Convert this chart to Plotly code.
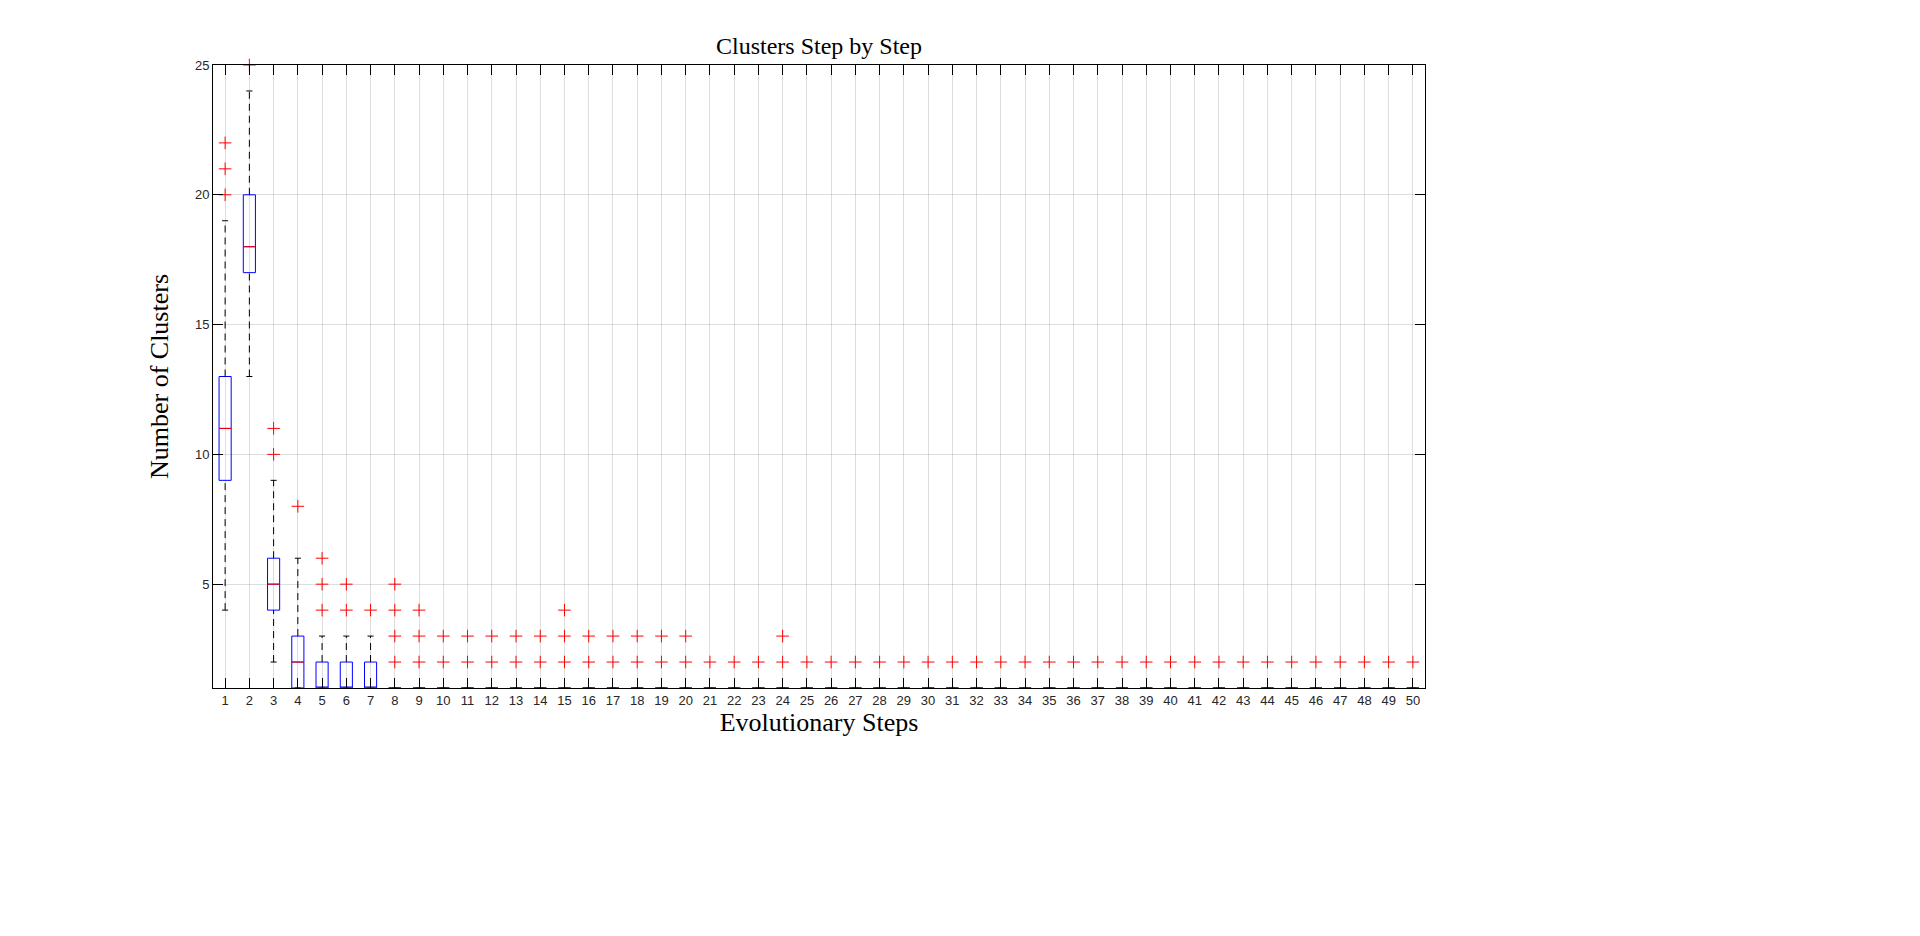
import plotly.graph_objects as go

steps = list(range(1, 51))
q1 =    [9, 17, 4, 1, 1, 1, 1] + [1]*43
med =   [11, 18, 5, 2, 1, 1, 1] + [1]*43
q3 =    [13, 20, 6, 3, 2, 2, 2] + [1]*43
wlo =   [4, 13, 2, 1, 1, 1, 1] + [1]*43
whi =   [19, 24, 9, 6, 3, 3, 3] + [1]*43
outliers = {
    1: [20, 21, 22], 2: [25], 3: [10, 11], 4: [8], 5: [4, 5, 6], 6: [4, 5], 7: [4],
    8: [2, 3, 4, 5], 9: [2, 3, 4], 10: [2, 3], 11: [2, 3], 12: [2, 3], 13: [2, 3],
    14: [2, 3], 15: [2, 3, 4], 16: [2, 3], 17: [2, 3], 18: [2, 3], 19: [2, 3], 20: [2, 3],
    21: [2], 22: [2], 23: [2], 24: [2, 3],
}
for s in range(25, 51):
    outliers[s] = [2]

fig = go.Figure()
fig.add_trace(go.Box(x=steps, q1=q1, median=med, q3=q3, lowerfence=q1, upperfence=q3,
                     width=0.5, line=dict(color="blue", width=1), fillcolor="rgba(0,0,0,0)",
                     whiskerwidth=0, showlegend=False, hoverinfo="skip"))
wx, wy, cx, cy, mx, my = [], [], [], [], [], []
for i, s in enumerate(steps):
    if whi[i] > q3[i]:
        wx += [s, s, None]; wy += [q3[i], whi[i], None]
    if wlo[i] < q1[i]:
        wx += [s, s, None]; wy += [wlo[i], q1[i], None]
    for v in (wlo[i], whi[i]):
        cx += [s - 0.125, s + 0.125, None]; cy += [v, v, None]
    mx += [s - 0.25, s + 0.25, None]; my += [med[i], med[i], None]
fig.add_trace(go.Scatter(x=wx, y=wy, mode="lines", line=dict(color="black", width=1, dash="7px,5px"),
                         showlegend=False, hoverinfo="skip"))
fig.add_trace(go.Scatter(x=cx, y=cy, mode="lines", line=dict(color="black", width=1),
                         showlegend=False, hoverinfo="skip"))
fig.add_trace(go.Scatter(x=mx, y=my, mode="lines", line=dict(color="red", width=1),
                         showlegend=False, hoverinfo="skip"))
ox, oy = [], []
for s, vals in outliers.items():
    for v in vals:
        ox.append(s); oy.append(v)
fig.add_trace(go.Scatter(x=ox, y=oy, mode="markers",
                         marker=dict(symbol="cross-thin", size=9, line=dict(color="red", width=1)),
                         showlegend=False, hoverinfo="skip", cliponaxis=False))

serif = "Liberation Serif"
fig.update_layout(
    width=1920, height=936, plot_bgcolor="white", paper_bgcolor="white",
    margin=dict(l=205, r=503, t=57, b=256),
    title=dict(text="Clusters Step by Step", x=0.5, xanchor="center", xref="paper",
               y=1 - 38/936, yanchor="middle", font=dict(family=serif, size=24, color="black")),
    xaxis=dict(range=[0.5, 50.5], tickvals=steps, ticktext=[str(s) for s in steps],
               showgrid=True, gridcolor="rgba(0,0,0,0.13)", zeroline=False,
               showline=True, linecolor="black", linewidth=1, mirror="ticks",
               ticks="inside", ticklen=10, tickcolor="black",
               tickfont=dict(family="Liberation Sans", size=13, color="#262626"),
               title=dict(text="Evolutionary Steps", font=dict(family=serif, size=26, color="black"), standoff=4)),
    yaxis=dict(range=[1, 25], tickvals=[5, 10, 15, 20, 25],
               showgrid=True, gridcolor="rgba(0,0,0,0.13)", zeroline=False,
               showline=True, linecolor="black", linewidth=1, mirror="ticks",
               ticks="inside", ticklen=10, tickcolor="black",
               tickfont=dict(family="Liberation Sans", size=13, color="#262626"),
               title=dict(text="Number of Clusters", font=dict(family=serif, size=26, color="black"), standoff=18)),
)
fig.write_html("out.html")
